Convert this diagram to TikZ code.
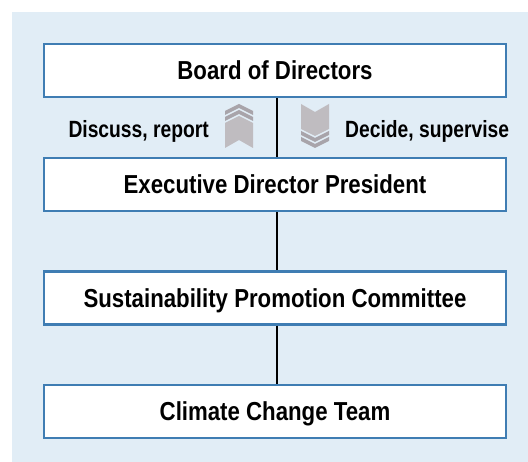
\documentclass[tikz,border=0pt]{standalone}
\usepackage{fontspec}
\newfontfamily\cf[FakeStretch=0.855]{Liberation Sans}
\newfontfamily\lf[FakeStretch=0.82]{Liberation Sans}
\definecolor{bgblue}{HTML}{E1EDF6}
\definecolor{boxblue}{HTML}{3F7DB3}
\definecolor{chevdark}{HTML}{A8A4AA}
\definecolor{chevlight}{HTML}{BFBCC0}
\begin{document}
\begin{tikzpicture}[x=1pt,y=-1pt,
  orgbox/.style={draw=boxblue,line width=2.2pt,fill=white,minimum width=462pt,minimum height=53pt,inner sep=0pt,text height=19pt,text depth=0pt,font=\cf\bfseries\fontsize{26}{29}\selectfont,text=black},
  sidelabel/.style={inner sep=0pt,font=\lf\bfseries\fontsize{23.5}{26}\selectfont,text=black},
  link/.style={draw=black,line width=1.6pt}]
\useasboundingbox (0,0) rectangle (528,462);
\fill[bgblue] (12,12) rectangle (528,462);
\node[orgbox] (b1) at (275,70.5) {Board of Directors};
\node[orgbox] (b2) at (275,184.5) {Executive Director President};
\node[orgbox] (b3) at (275,298) {Sustainability Promotion Committee};
\node[orgbox] (b4) at (275,411.5) {Climate Change Team};
\draw[link] ([xshift=2pt]b1.south) -- ([xshift=2pt]b2.north);
\draw[link] ([xshift=2pt]b2.south) -- ([xshift=2pt]b3.north);
\draw[link] ([xshift=2pt]b3.south) -- ([xshift=2pt]b4.north);
\node[sidelabel,anchor=base east] (l1) at (209,138) {Discuss, report};
\node[sidelabel,anchor=base west] (l2) at (345,138) {Decide, supervise};
% up chevron
\fill[chevdark] (225,111) -- (239,104) -- (253,111) -- (253,115) -- (239,108) -- (225,115) -- cycle;
\fill[chevdark] (225,117) -- (239,110) -- (253,117) -- (253,121) -- (239,114) -- (225,121) -- cycle;
\fill[chevlight] (225,123) -- (239,116) -- (253,123) -- (253,148) -- (239,140) -- (225,148) -- cycle;
% down chevron
\fill[chevlight] (301,104) -- (315,112) -- (329,104) -- (329,129) -- (315,136) -- (301,129) -- cycle;
\fill[chevdark] (301,131) -- (315,138) -- (329,131) -- (329,135) -- (315,142) -- (301,135) -- cycle;
\fill[chevdark] (301,137) -- (315,144) -- (329,137) -- (329,141) -- (315,148) -- (301,141) -- cycle;
\end{tikzpicture}
\end{document}
